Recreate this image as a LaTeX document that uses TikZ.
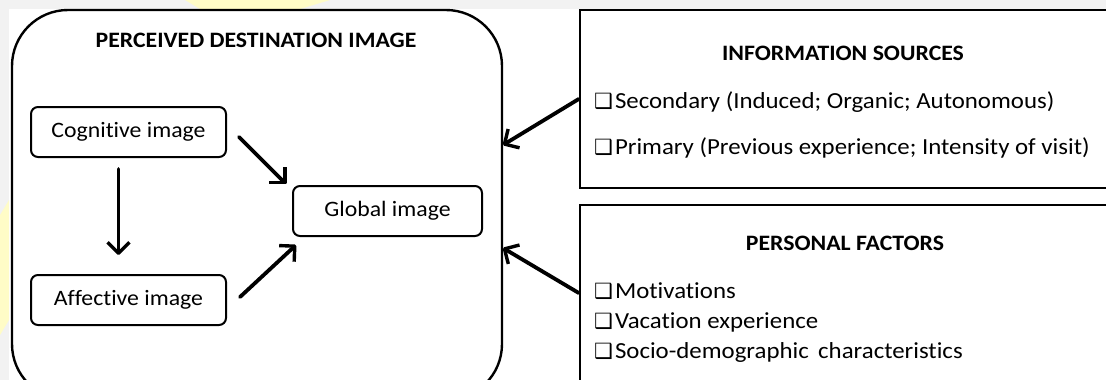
\documentclass[tikz,border=0pt]{standalone}
\usepackage{fontspec}
\setmainfont{Carlito}[FakeStretch=1.08, Ligatures=NoCommon]
\newfontfamily\symfont{DejaVu Sans}
\usetikzlibrary{arrows.meta}
\newcommand{\chk}{{\symfont\fontsize{21}{24}\selectfont ❑}\hspace{2pt}}
\begin{document}
\begin{tikzpicture}[x=1pt,y=-1pt,
  frame/.style={draw=black, line width=2.4pt, inner sep=0pt},
  imgbox/.style={draw=black, line width=2pt, rounded corners=7pt, inner sep=0pt,
    minimum height=50pt, font=\fontsize{22}{26}\selectfont},
  heading/.style={font=\fontsize{22}{26}\selectfont\bfseries, anchor=base, inner sep=0pt},
  item/.style={font=\fontsize{23}{27}\selectfont, anchor=base west, inner sep=0pt},
  arr/.style={line width=3.8pt, line cap=round,
    -{Straight Barb[length=11pt, width=22pt, line width=3.4pt, line join=round]}}
]
\useasboundingbox (0,0) rectangle (1106,380);
\clip (0,0) rectangle (1106,380);
\fill[white] (0,0) rectangle (1106,380);
% page edge tint
\fill[black!5] (0,0) rectangle (1106,9);
\fill[black!5] (0,0) rectangle (9,380);
\fill[yellow!22] (185,0) -- (330,0) -- (300,9) -- (200,9) -- cycle;
\fill[yellow!22] (0,215) -- (9,200) -- (9,320) -- (0,335) -- cycle;

% outer frames
\node[frame, rounded corners=56pt, minimum width=490pt, minimum height=390pt]
  (pdi) at (257,205) {};
\node[frame, minimum width=532pt, minimum height=178pt] (info) at (846,99) {};
\node[frame, minimum width=532pt, minimum height=200pt] (pers) at (846,305) {};

% headings
\node[heading] (pdiT) at (256,47) {PERCEIVED DESTINATION IMAGE};
\node[heading] (infoT) at (843,60) {INFORMATION SOURCES};
\node[heading] (persT) at (845,250) {PERSONAL FACTORS};

% information sources
\node[item] (sec) at (594,108) {\chk Secondary (Induced; Organic; Autonomous)};
\node[item] (prim) at (594,154) {\chk Primary (Previous experience; Intensity of visit)};

% personal factors
\node[item] (mot) at (594,298) {\chk Motivations};
\node[item] (vac) at (594,328) {\chk Vacation experience};
\node[item] (soc) at (594,358) {\chk Socio-demographic\, characteristics};

% image components
\node[imgbox, minimum width=195pt] (cog) at (128.5,132) {Cognitive image};
\node[imgbox, minimum width=195pt] (aff) at (128.5,300) {Affective image};
\node[imgbox, minimum width=189pt] (glob) at (387.5,211) {Global image};

% arrows
\coordinate (inA) at (503,145);
\coordinate (inB) at (503,248);
\draw[arr] ([xshift=-10pt]cog.south) ++(0,11) -- ([xshift=-10pt,yshift=19pt]aff.north);
\draw[arr] ([shift={(12,5)}]cog.east) -- ([shift={(-6,-1)}]glob.north west);
\draw[arr] ([shift={(13,-3)}]aff.east) -- ([shift={(4,8)}]glob.south west);
\draw[arr] (info.west) -- (inA);
\draw[arr] ([yshift=12pt]pers.west) -- (inB);
\end{tikzpicture}
\end{document}
